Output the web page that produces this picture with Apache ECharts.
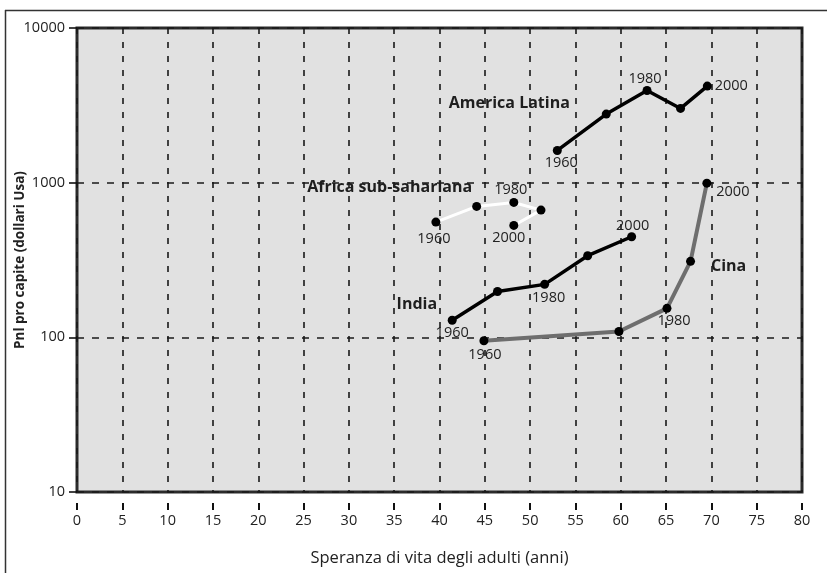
<!DOCTYPE html>
<html>
<head>
<meta charset="utf-8">
<script src="https://cdn.jsdelivr.net/npm/echarts@6/dist/echarts.min.js"></script>
<style>
html,body{margin:0;padding:0;background:#fff;}
#chart{width:827px;height:573px;}
</style>
</head>
<body>
<div id="chart"></div>
<script>
// ---- Data ----
const xTicks = [0,5,10,15,20,25,30,35,40,45,50,55,60,65,70,75,80];
const yTicks = [10,100,1000,10000];

const latinName = 'America Latina';
const latinX = [53.0, 58.4, 62.9, 66.6, 69.55];
const latinY = [1615, 2775, 3945, 3020, 4210];
const latinYears = ['1960', '', '1980', '', '2000'];

const africaName = 'Africa sub-sahariana';
const africaX = [39.6, 44.1, 48.2, 51.2, 48.2];
const africaY = [556, 702, 745, 665, 529];
const africaYears = ['1960', '', '1980', '', '2000'];

const indiaName = 'India';
const indiaX = [41.4, 46.4, 51.6, 56.35, 61.2];
const indiaY = [129, 198, 220, 337, 447];
const indiaYears = ['1960', '', '1980', '', '2000'];

const chinaName = 'Cina';
const chinaX = [44.9, 59.8, 65.1, 67.7, 69.5];
const chinaY = [95, 109, 154, 310, 993];
const chinaYears = ['1960', '', '1980', '', '2000'];

const xAxisName = 'Speranza di vita degli adulti (anni)';
const yAxisName = 'Pnl pro capite (dollari Usa)';

// ---- Annotation placement (styling, not data) ----
const nameAnchors = {
  'America Latina': [47.7, 3236],
  'Africa sub-sahariana': [34.5, 927],
  'India': [37.5, 163],
  'Cina': [71.9, 287]
};
const yearOffsets = {
  'America Latina': [[4,12],null,[-2,-12],null,[24,0]],
  'Africa sub-sahariana': [[-2,17],null,[-3,-13],null,[-5,12]],
  'India': [[0,13],null,[4,14],null,[1,-11]],
  'Cina': [[1,14],null,[7,13],null,[26,9]]
};

const FONT = '"Open Sans", "Noto Sans", sans-serif';
const SYM = 9;

function buildData(name, xs, ys, years) {
  return xs.map((x, i) => {
    const item = { value: [x, ys[i]] };
    if (years[i]) {
      const off = yearOffsets[name][i];
      item.label = {
        show: true,
        formatter: years[i],
        position: [SYM/2 + off[0], SYM/2 + off[1]],
        align: 'center',
        verticalAlign: 'middle',
        color: '#222',
        fontSize: 14.5,
        fontFamily: FONT
      };
    }
    return item;
  });
}

function lineSeries(name, xs, ys, years, color, width) {
  return {
    name: name,
    type: 'line',
    data: buildData(name, xs, ys, years),
    symbol: 'circle',
    symbolSize: SYM,
    showAllSymbol: true,
    itemStyle: { color: '#000' },
    lineStyle: { color: color, width: width },
    emphasis: { disabled: true },
    label: { show: false },
    z: 5
  };
}

const names = [latinName, africaName, indiaName, chinaName];
const nameSeries = {
  type: 'scatter',
  silent: true,
  symbol: 'circle',
  symbolSize: 1,
  itemStyle: { color: 'rgba(0,0,0,0)', opacity: 1 },
  emphasis: { disabled: true },
  z: 6,
  data: names.map(n => ({
    value: nameAnchors[n],
    label: {
      show: true,
      formatter: n,
      position: 'inside',
      align: 'center',
      verticalAlign: 'middle',
      color: '#1e1e1e',
      opacity: 1,
      fontSize: 16,
      fontWeight: 'bold',
      fontFamily: FONT
    }
  }))
};

const chart = echarts.init(document.getElementById('chart'), null, { renderer: 'canvas' });

const option = {
  animation: false,
  textStyle: { fontFamily: FONT },
  grid: {
    left: 77, right: 25, top: 28, bottom: 81,
    show: true,
    backgroundColor: '#e1e1e1',
    borderColor: '#2b2b2b',
    borderWidth: 3,
    containLabel: false,
    outerBoundsMode: 'none'
  },
  xAxis: {
    type: 'value',
    min: xTicks[0],
    max: xTicks[xTicks.length - 1],
    interval: 5,
    name: xAxisName,
    nameLocation: 'middle',
    nameGap: 58,
    nameMoveOverlap: false,
    nameTextStyle: { color: '#222', fontSize: 16.5, fontFamily: FONT },
    axisLine: { show: false },
    axisTick: {
      show: true, length: 18, inside: false,
      lineStyle: { color: '#111', width: 2, type: [0, 11, 7, 100] }
    },
    axisLabel: {
      color: '#222', fontSize: 14.5, margin: 21, fontFamily: FONT,
      formatter: v => String(v)
    },
    splitLine: {
      show: true,
      lineStyle: { color: '#1a1a1a', width: 1.6, type: [6, 8] }
    }
  },
  yAxis: {
    type: 'log',
    logBase: 10,
    min: yTicks[0],
    max: yTicks[yTicks.length - 1],
    name: yAxisName,
    nameLocation: 'middle',
    nameGap: 50,
    nameRotate: 90,
    nameMoveOverlap: false,
    nameTextStyle: { color: '#222', fontSize: 13.5, fontWeight: 'bold', fontFamily: FONT },
    axisLine: { show: false },
    axisTick: { show: true, length: 8, lineStyle: { color: '#111', width: 1.6 } },
    axisLabel: {
      color: '#222', fontSize: 14.5, margin: 12, fontFamily: FONT,
      formatter: v => String(Math.round(v))
    },
    splitLine: {
      show: true,
      lineStyle: { color: '#1a1a1a', width: 1.6, type: [7, 8] }
    }
  },
  series: [
    lineSeries(latinName, latinX, latinY, latinYears, '#000', 3.5),
    lineSeries(africaName, africaX, africaY, africaYears, '#fff', 3),
    lineSeries(indiaName, indiaX, indiaY, indiaYears, '#000', 3.5),
    lineSeries(chinaName, chinaX, chinaY, chinaYears, '#6e6e6e', 4),
    nameSeries
  ],
  graphic: [
    { type: 'line', silent: true, shape: { x1: 5, y1: 10.5, x2: 827, y2: 10.5 }, style: { stroke: '#333', lineWidth: 1.5 } },
    { type: 'line', silent: true, shape: { x1: 5.5, y1: 10, x2: 5.5, y2: 573 }, style: { stroke: '#333', lineWidth: 1.5 } }
  ]
};

chart.setOption(option);
</script>
</body>
</html>
